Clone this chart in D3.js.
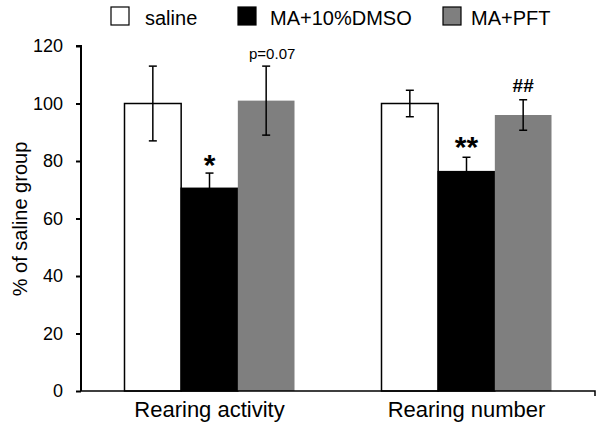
<!DOCTYPE html>
<html><head><meta charset="utf-8">
<script src="https://cdn.jsdelivr.net/npm/d3@7"></script>
<style>body{margin:0;background:#fff}svg{display:block;font-family:"Liberation Sans",Arial,sans-serif}</style>
</head><body><svg id="c" width="604" height="435"></svg>
<script>
const categories = ["Rearing activity", "Rearing number"];
const series = ["saline", "MA+10%DMSO", "MA+PFT"];
const colors = ["#ffffff", "#000000", "#7f7f7f"];
const saline = [100, 100];
const maDmso = [70.5, 76.3];
const maPft = [101, 96];
const salineErr = [13, 4.6];
const maDmsoErr = [5.3, 5];
const maPftErr = [12, 5.3];
const yTicks = [0, 20, 40, 60, 80, 100, 120];
const annotations = [
  {cat: 0, s: 1, text: "*", size: 30, dy: -2, bold: true, off: 0},
  {cat: 0, s: 2, text: "p=0.07", size: 15, dy: 7, bold: false, off: 6},
  {cat: 1, s: 1, text: "**", size: 30, dy: 0, bold: true, off: 0},
  {cat: 1, s: 2, text: "##", size: 19, dy: 8, bold: true, off: 0}
];
const values = [saline, maDmso, maPft];
const errs = [salineErr, maDmsoErr, maPftErr];

const svg = d3.select("#c");
const x0 = d3.scaleBand().domain(categories).range([81, 595]).paddingInner(0).paddingOuter(0);
const y = d3.scaleLinear().domain([0, 120]).range([391, 46]);
const groupW = 170;
const x1 = d3.scaleBand().domain(series).range([0, groupW]).padding(0);

categories.forEach((c, ci) => {
  const gx = x0(c) + (x0.bandwidth() - groupW) / 2;
  series.forEach((s, si) => {
    const v = values[si][ci];
    svg.append("rect")
      .attr("x", gx + x1(s)).attr("y", y(v))
      .attr("width", x1.bandwidth()).attr("height", y(0) - y(v))
      .attr("fill", colors[si])
      .attr("stroke", si === 2 ? "none" : "#000").attr("stroke-width", 1.5);
    const e = errs[si][ci];
    const cx = gx + x1(s) + x1.bandwidth() / 2;
    const top = y(v + e), bot = y(v - e);
    if (si === 1) {
      svg.append("line").attr("x1", cx).attr("x2", cx).attr("y1", top).attr("y2", y(v)).attr("stroke", "#000").attr("stroke-width", 1.5);
      svg.append("line").attr("x1", cx - 4).attr("x2", cx + 4).attr("y1", top).attr("y2", top).attr("stroke", "#000").attr("stroke-width", 1.5);
    } else {
      svg.append("line").attr("x1", cx).attr("x2", cx).attr("y1", top).attr("y2", bot).attr("stroke", "#000").attr("stroke-width", 1.5);
      [top, bot].forEach(yy => svg.append("line").attr("x1", cx - 4).attr("x2", cx + 4).attr("y1", yy).attr("y2", yy).attr("stroke", "#000").attr("stroke-width", 1.5));
    }
  });
});

annotations.forEach(a => {
  const c = categories[a.cat], s = series[a.s];
  const gx = x0(c) + (x0.bandwidth() - groupW) / 2;
  const cx = gx + x1(s) + x1.bandwidth() / 2;
  const v = values[a.s][a.cat] + errs[a.s][a.cat];
  svg.append("text").attr("x", cx + a.off).attr("y", y(v) - a.dy)
    .attr("text-anchor", "middle").attr("font-size", a.size)
    .attr("font-weight", a.bold ? "bold" : "normal")
    .text(a.text);
});

const yAxis = svg.append("g").attr("transform", "translate(81,0)")
  .call(d3.axisLeft(y).tickValues(yTicks).tickSize(5).tickPadding(13));
yAxis.select(".domain").attr("stroke-width", 2).attr("d", "M-5,46H0V391");
yAxis.selectAll(".tick line").attr("stroke-width", 2);
yAxis.selectAll("text").attr("font-size", 18).attr("fill", "#000").attr("font-family", "Liberation Sans, Arial, sans-serif");

const xAxis = svg.append("g").attr("transform", "translate(0,391)")
  .call(d3.axisBottom(x0).tickSize(0).tickPadding(10));
xAxis.select(".domain").attr("stroke-width", 1.5).attr("d", "M81,0H595V5");
xAxis.selectAll("text").attr("font-size", 22).attr("fill", "#000").attr("font-family", "Liberation Sans, Arial, sans-serif");

svg.append("text").attr("transform", "translate(27,219) rotate(-90)")
  .attr("text-anchor", "middle").attr("font-size", 20).text("% of saline group");

const legBox = [111, 238, 443];
const legText = [145, 270, 471];
series.forEach((s, i) => {
  svg.append("rect").attr("x", legBox[i]).attr("y", 7).attr("width", 18).attr("height", 18)
    .attr("fill", colors[i]).attr("stroke", "#000").attr("stroke-width", 1.2);
  svg.append("text").attr("x", legText[i]).attr("y", 25).attr("font-size", 20).text(s);
});
</script></body></html>
